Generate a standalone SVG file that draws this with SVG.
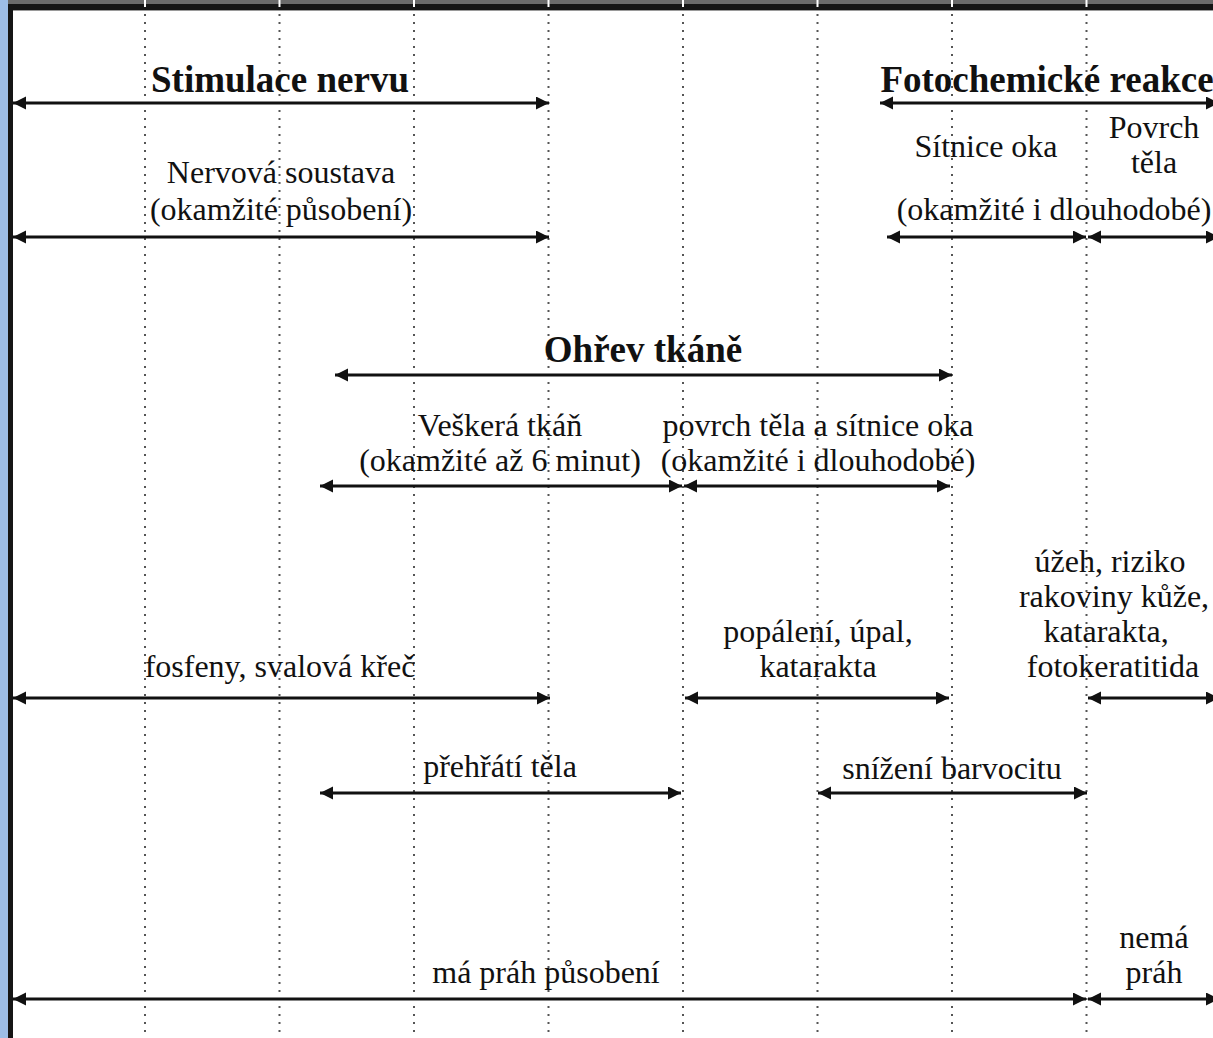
<svg xmlns="http://www.w3.org/2000/svg" width="1213" height="1038" viewBox="0 0 1213 1038">
<style>
.t{font-family:"Liberation Serif","Times New Roman",serif;font-size:32px;fill:#111;text-anchor:middle}
.b{font-family:"Liberation Serif","Times New Roman",serif;font-size:37px;font-weight:bold;fill:#111;text-anchor:middle}
.g{stroke:#555;stroke-width:2;stroke-dasharray:2 6}
.a{stroke:#111;stroke-width:3.2;fill:none;marker-start:url(#ah);marker-end:url(#ah)}
</style>
<defs>
<marker id="ah" markerUnits="userSpaceOnUse" markerWidth="14" markerHeight="14" refX="13" refY="6.5" orient="auto-start-reverse" viewBox="0 0 14 14">
<path d="M0,0 L13,6.5 L0,13 Z" fill="#111"/>
</marker>
</defs>
<rect width="1213" height="1038" fill="#fff"/>
<g id="frame">
<rect x="0" y="0" width="1213" height="4" fill="#6b6b6b"/>
<rect x="0" y="4" width="1213" height="6" fill="#151515"/>
<rect x="0" y="10" width="1213" height="1" fill="#9a9a9a"/>
<rect x="0" y="0" width="8" height="1038" fill="#9dbde6"/>
<rect x="8" y="4" width="5" height="1034" fill="#151515"/>
<g fill="#fff">
<rect x="144" y="0" width="2" height="7"/><rect x="278.5" y="0" width="2" height="7"/><rect x="413" y="0" width="2" height="7"/><rect x="547.5" y="0" width="2" height="7"/><rect x="682" y="0" width="2" height="7"/><rect x="816.5" y="0" width="2" height="7"/><rect x="951" y="0" width="2" height="7"/><rect x="1085.5" y="0" width="2" height="7"/>
</g>
</g>
<g id="grid">
<line class="g" x1="145" y1="14" x2="145" y2="1038"/>
<line class="g" x1="279.5" y1="14" x2="279.5" y2="1038"/>
<line class="g" x1="414" y1="14" x2="414" y2="1038"/>
<line class="g" x1="548.5" y1="14" x2="548.5" y2="1038"/>
<line class="g" x1="683" y1="14" x2="683" y2="1038"/>
<line class="g" x1="817.5" y1="14" x2="817.5" y2="1038"/>
<line class="g" x1="952" y1="14" x2="952" y2="1038"/>
<line class="g" x1="1086.5" y1="14" x2="1086.5" y2="1038"/>
</g>
<g id="connectors">
<line class="a" x1="13" y1="103" x2="549" y2="103"/>
<line class="a" x1="880" y1="103" x2="1219" y2="103"/>
<line class="a" x1="13" y1="237" x2="549" y2="237"/>
<line class="a" x1="887" y1="237" x2="1086" y2="237"/>
<line class="a" x1="1088" y1="237" x2="1219" y2="237"/>
<line class="a" x1="335" y1="375" x2="952" y2="375"/>
<line class="a" x1="320" y1="486" x2="682" y2="486"/>
<line class="a" x1="684" y1="486" x2="950" y2="486"/>
<line class="a" x1="13" y1="698" x2="550" y2="698"/>
<line class="a" x1="685" y1="698" x2="949" y2="698"/>
<line class="a" x1="1088" y1="698" x2="1219" y2="698"/>
<line class="a" x1="320" y1="793" x2="681" y2="793"/>
<line class="a" x1="818" y1="793" x2="1087" y2="793"/>
<line class="a" x1="13" y1="999" x2="1086" y2="999"/>
<line class="a" x1="1088" y1="999" x2="1219" y2="999"/>
</g>
<g id="stimulace"><text class="b" x="280" y="92">Stimulace nervu</text></g>
<g id="fotochemicke"><text class="b" x="1047" y="92">Fotochemické reakce</text></g>
<g id="nervova"><text class="t" x="281" y="183">Nervová soustava</text><text class="t" x="281" y="220">(okamžité působení)</text></g>
<g id="sitnice"><text class="t" x="986" y="157">Sítnice oka</text></g>
<g id="povrch"><text class="t" x="1154" y="138">Povrch</text><text class="t" x="1154" y="173">těla</text></g>
<g id="fotodoba"><text class="t" x="1054" y="220">(okamžité i dlouhodobé)</text></g>
<g id="ohrev"><text class="b" x="643" y="362">Ohřev tkáně</text></g>
<g id="veskera"><text class="t" x="500" y="436">Veškerá tkáň</text><text class="t" x="500" y="471">(okamžité až 6 minut)</text></g>
<g id="povrchsit"><text class="t" x="818" y="436">povrch těla a sítnice oka</text><text class="t" x="818" y="471">(okamžité i dlouhodobé)</text></g>
<g id="uzeh"><text class="t" x="1110" y="572">úžeh, riziko</text><text class="t" x="1114" y="607">rakoviny kůže,</text><text class="t" x="1106" y="642">katarakta,</text><text class="t" x="1113" y="677">fotokeratitida</text></g>
<g id="popaleni"><text class="t" x="818" y="642">popálení, úpal,</text><text class="t" x="818" y="677">katarakta</text></g>
<g id="fosfeny"><text class="t" x="280" y="677">fosfeny, svalová křeč</text></g>
<g id="prehrati"><text class="t" x="500" y="777">přehřátí těla</text></g>
<g id="snizeni"><text class="t" x="952" y="779">snížení barvocitu</text></g>
<g id="maprah"><text class="t" x="546" y="983">má práh působení</text></g>
<g id="nemaprah"><text class="t" x="1154" y="948">nemá</text><text class="t" x="1154" y="983">práh</text></g>
</svg>
